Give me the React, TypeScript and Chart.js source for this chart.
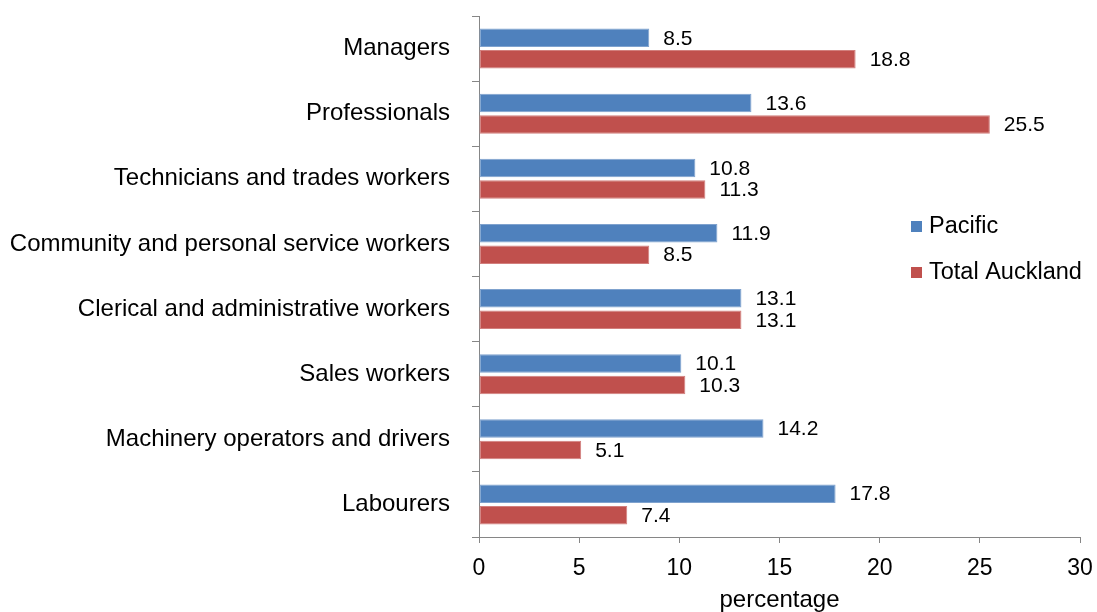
import React, { useEffect, useRef } from "react";
import { Chart, registerables } from "chart.js";

Chart.register(...registerables);

const categories = [
  "Managers",
  "Professionals",
  "Technicians and trades workers",
  "Community and personal service workers",
  "Clerical and administrative workers",
  "Sales workers",
  "Machinery operators and drivers",
  "Labourers",
];
const pacificValues = [8.5, 13.6, 10.8, 11.9, 13.1, 10.1, 14.2, 17.8];
const aucklandValues = [18.8, 25.5, 11.3, 8.5, 13.1, 10.3, 5.1, 7.4];
const xTicks = [0, 5, 10, 15, 20, 25, 30];
const seriesNames = ["Pacific", "Total Auckland"];

const FONT = "'Liberation Sans', Arial, sans-serif";
const BLUE = "#4F81BD";
const RED = "#C0504D";
const AXIS = "#868686";

const valueLabels = {
  id: "valueLabels",
  afterDatasetsDraw(chart: any) {
    const ctx = chart.ctx;
    ctx.save();
    ctx.font = `21px ${FONT}`;
    ctx.fillStyle = "#000";
    ctx.textAlign = "left";
    ctx.textBaseline = "middle";
    chart.data.datasets.forEach((ds: any, di: number) => {
      const meta = chart.getDatasetMeta(di);
      meta.data.forEach((el: any, i: number) => {
        ctx.fillText(Number(ds.data[i]).toFixed(1), el.x + 14, el.y + 1);
      });
    });
    ctx.restore();
  },
};

const customLegend = {
  id: "customLegend",
  afterDraw(chart: any) {
    const ctx = chart.ctx;
    ctx.save();
    ctx.font = `23.5px ${FONT}`;
    ctx.textAlign = "left";
    ctx.textBaseline = "middle";
    const x0 = 911;
    const rows = [227, 273];
    chart.data.datasets.forEach((ds: any, di: number) => {
      const y = rows[di];
      ctx.fillStyle = ds.backgroundColor;
      ctx.fillRect(x0, y - 6, 11, 11);
      ctx.fillStyle = "#000";
      ctx.fillText(ds.label, x0 + 18, y);
    });
    ctx.restore();
  },
};

export default function App() {
  const ref = useRef<HTMLCanvasElement | null>(null);
  useEffect(() => {
    document.body.style.margin = "0";
    const canvas = ref.current!;
    const chart = new Chart(canvas, {
      type: "bar",
      data: {
        labels: categories,
        datasets: [
          {
            label: seriesNames[0],
            data: pacificValues,
            backgroundColor: BLUE,
            borderColor: "#7FA2CE",
            borderWidth: 1,
            borderSkipped: false,
            barPercentage: 0.86,
            categoryPercentage: 0.66,
          },
          {
            label: seriesNames[1],
            data: aucklandValues,
            backgroundColor: RED,
            borderColor: "#D27F7D",
            borderWidth: 1,
            borderSkipped: false,
            barPercentage: 0.86,
            categoryPercentage: 0.66,
          },
        ],
      },
      options: {
        indexAxis: "y",
        responsive: false,
        animation: false,
        devicePixelRatio: 1,
        layout: { padding: { top: 16, right: 17, bottom: 0, left: 0 } },
        plugins: {
          legend: { display: false },
          tooltip: { enabled: false },
        },
        scales: {
          x: {
            min: 0,
            max: 30,
            afterBuildTicks: (scale: any) => {
              scale.ticks = xTicks.map((v) => ({ value: v }));
            },
            border: { display: true, color: AXIS, width: 1 },
            grid: {
              drawOnChartArea: false,
              drawTicks: true,
              tickLength: 6,
              color: AXIS,
            },
            ticks: {
              color: "#000",
              font: { family: FONT, size: 23 },
              padding: 12,
              maxRotation: 0,
            },
            title: {
              display: true,
              text: "percentage",
              color: "#000",
              font: { family: FONT, size: 24, lineHeight: 1 },
              padding: 0,
            },
            afterFit: (scale: any) => {
              scale.height = 75;
              scale.paddingLeft = 0;
              scale.paddingRight = 0;
            },
          },
          y: {
            border: { display: true, color: AXIS, width: 1 },
            grid: {
              drawOnChartArea: false,
              drawTicks: true,
              tickLength: 7,
              color: AXIS,
            },
            ticks: {
              color: "#000",
              font: { family: FONT, size: 24 },
              padding: 22,
              autoSkip: false,
            },
            afterFit: (scale: any) => {
              scale.width = 479;
              scale.paddingTop = 0;
              scale.paddingBottom = 0;
            },
          },
        },
      },
      plugins: [valueLabels, customLegend],
    });
    return () => chart.destroy();
  }, []);
  return (
    <div style={{ width: 1097, height: 612, background: "#fff" }}>
      <canvas ref={ref} width={1097} height={612} style={{ display: "block" }} />
    </div>
  );
}
